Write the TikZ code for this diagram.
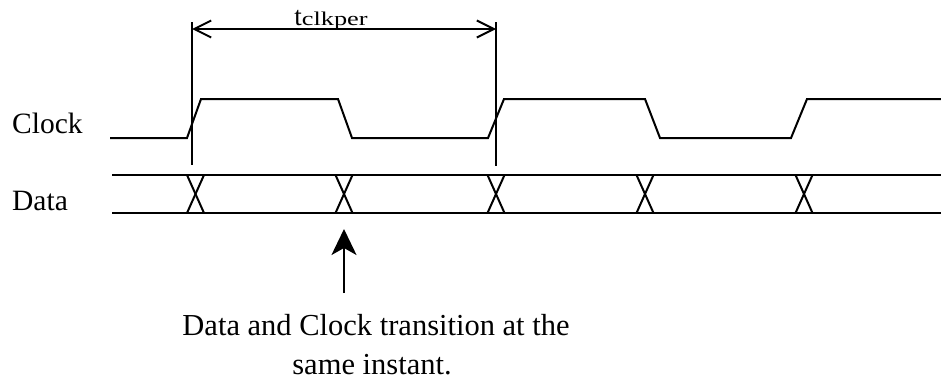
\documentclass[tikz,border=0pt]{standalone}
\usepackage{fontspec}
\setmainfont{Liberation Serif}
\usetikzlibrary{arrows.meta}
\tikzset{
  wave/.style={line width=2pt, line join=miter},
  dimline/.style={line width=2pt, {Straight Barb[length=17pt,width=17pt,line width=2pt]}-{Straight Barb[length=17pt,width=17pt,line width=2pt]}},
  marker/.style={line width=2pt},
  callout/.style={line width=2pt, -{Stealth[length=26pt,width=25pt,inset=7pt]}},
  lbl/.style={inner sep=0pt, font=\fontsize{29.5}{34}\selectfont},
  note/.style={inner sep=0pt, font=\fontsize{30.5}{36}\selectfont}
}
\begin{document}
\begin{tikzpicture}[x=1pt,y=-1pt]
\useasboundingbox (0,0) rectangle (941,383);
% labels
\node[lbl, anchor=base west] (clk) at (12,133) {Clock};
\node[lbl, anchor=base west] (dat) at (12,210) {Data};
% clock waveform
\draw[wave] (110,138) -- (187,138) -- (201,99) -- (338,99) -- (352,138) -- (488,138) -- (504,99) -- (645,99) -- (660,138) -- (791,138) -- (807,99) -- (941,99);
% data bus
\draw[wave] (112,175) -- (941,175);
\draw[wave] (112,213) -- (941,213);
\foreach \cx in {195.5,344,496,645,804}{
  \draw[wave] (\cx-8.5,175) -- (\cx+8.5,213);
  \draw[wave] (\cx+8.5,175) -- (\cx-8.5,213);
}
% period markers
\coordinate (ltop) at (192,22);
\coordinate (lbot) at (192,165);
\coordinate (rtop) at (496,22);
\coordinate (rbot) at (496,166);
\draw[marker] (ltop) -- (lbot);
\draw[marker] (rtop) -- (rbot);
\coordinate (dl) at (192,29);
\coordinate (dr) at (496,29);
\draw[dimline] (dl) -- (dr);
\node[inner sep=0pt, anchor=base] (tper) at (331,25) {\fontsize{27}{30}\selectfont t\scalebox{1.35}[1]{\fontsize{19.5}{22}\selectfont clkper}};
% callout
\coordinate (atip) at (344,229);
\coordinate (atail) at (344,293);
\draw[callout] (atail) -- (atip);
\node[note, anchor=base] (n1) at (376,335) {Data and Clock transition at the};
\node[note, anchor=base] (n2) at (372,374) {same instant.};
\end{tikzpicture}
\end{document}
